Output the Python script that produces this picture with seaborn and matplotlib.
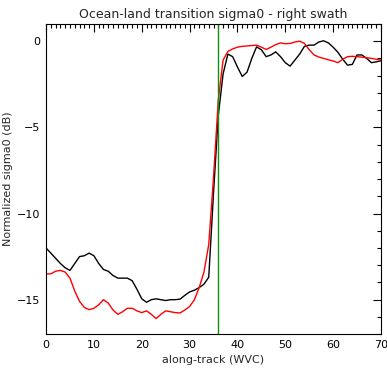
import numpy as np
import pandas as pd
import matplotlib
matplotlib.use("Agg")
import matplotlib.pyplot as plt
import seaborn as sns
from matplotlib.ticker import MultipleLocator

along_track = list(range(0, 71))
black_sigma0 = [-12.0, -12.3, -12.6, -12.9, -13.15, -13.3, -12.9, -12.5, -12.45, -12.3,
                -12.45, -12.9, -13.25, -13.35, -13.6, -13.75, -13.75, -13.75, -13.9, -14.4,
                -14.95, -15.15, -15.0, -14.95, -15.0, -15.05, -15.0, -15.0, -14.97, -14.75,
                -14.55, -14.45, -14.3, -14.1, -13.7, -8.8, -4.3, -1.9, -0.75, -0.9,
                -1.5, -2.05, -1.8, -1.0, -0.33, -0.5, -0.9, -0.8, -0.62, -0.9,
                -1.25, -1.45, -1.1, -0.75, -0.3, -0.23, -0.23, -0.05, 0.02, -0.1,
                -0.35, -0.65, -1.05, -1.39, -1.35, -0.8, -0.8, -1.0, -1.25, -1.2,
                -1.14]
red_sigma0 = [-13.5, -13.5, -13.35, -13.3, -13.4, -13.75, -14.5, -15.1, -15.45, -15.58,
              -15.5, -15.3, -15.0, -15.2, -15.6, -15.85, -15.7, -15.5, -15.5, -15.65,
              -15.75, -15.65, -15.85, -16.1, -15.85, -15.65, -15.7, -15.75, -15.77, -15.6,
              -15.4, -15.0, -14.3, -13.4, -11.8, -7.9, -3.4, -1.1, -0.6, -0.45,
              -0.35, -0.3, -0.28, -0.25, -0.23, -0.35, -0.48, -0.35, -0.2, -0.1,
              -0.15, -0.13, -0.05, 0.0, -0.13, -0.5, -0.8, -0.92, -1.0, -1.08,
              -1.15, -1.25, -1.05, -0.9, -0.88, -0.9, -0.93, -0.96, -1.0, -1.05,
              -1.1]
transition_x = 36

df = pd.DataFrame({"x": along_track, "black": black_sigma0, "red": red_sigma0})

sns.set_style("white")
plt.rcParams['font.family'] = ['DejaVu Sans']

fig = plt.figure(figsize=(3.87, 3.68), dpi=100)
ax = fig.add_axes([0.119, 0.092, 0.8655, 0.843])

sns.lineplot(data=df, x="x", y="black", color="black", lw=1.0, ax=ax)
sns.lineplot(data=df, x="x", y="red", color="red", lw=1.0, ax=ax)
ax.axvline(transition_x, color="#109010", lw=1.0)

ax.set_xlim(0, 70)
ax.set_ylim(-17, 1)
ax.xaxis.set_major_locator(MultipleLocator(10))
ax.xaxis.set_minor_locator(MultipleLocator(1))
ax.yaxis.set_major_locator(MultipleLocator(5))
ax.yaxis.set_minor_locator(MultipleLocator(1))
ax.tick_params(which="both", direction="in", top=True, right=True, labelsize=8, colors="black")
ax.tick_params(which="major", length=6, width=0.8, pad=4)
ax.tick_params(which="minor", length=3, width=0.8)
for s in ax.spines.values():
    s.set_color("black")
    s.set_linewidth(0.8)

ax.set_title("Ocean-land transition sigma0 - right swath", fontsize=9, pad=4)
ax.set_xlabel("along-track (WVC)", fontsize=8, labelpad=4)
ax.set_ylabel("Normalized sigma0 (dB)", fontsize=8, labelpad=3)

fig.savefig("out.png", dpi=100)
